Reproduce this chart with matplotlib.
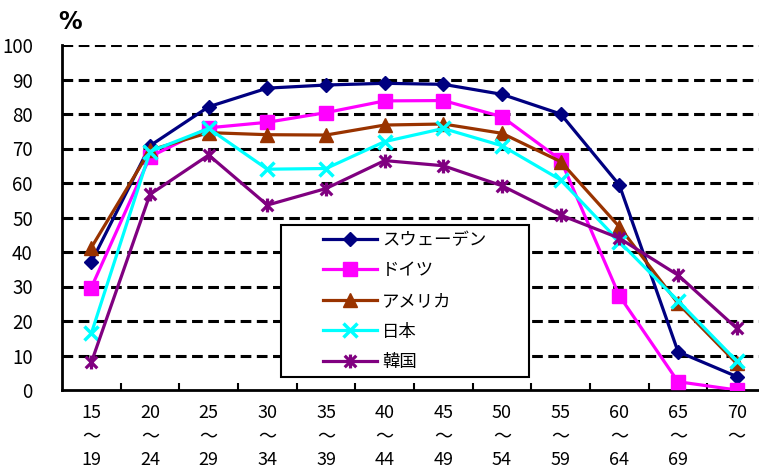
import matplotlib
matplotlib.use('Agg')
import matplotlib.pyplot as plt
from matplotlib.path import Path
from matplotlib.patches import Rectangle
import numpy as np

plt.rcParams['font.family'] = ['Noto Sans CJK JP', 'DejaVu Sans']

age_labels = ['15\n〜\n19', '20\n〜\n24', '25\n〜\n29', '30\n〜\n34', '35\n〜\n39', '40\n〜\n44',
              '45\n〜\n49', '50\n〜\n54', '55\n〜\n59', '60\n〜\n64', '65\n〜\n69', '70\n〜\n ']

sweden = [37.1, 70.8, 82.1, 87.5, 88.4, 88.9, 88.6, 85.7, 80.0, 59.4, 11.1, 3.9]
germany = [29.7, 67.6, 76.0, 77.6, 80.4, 83.8, 83.9, 79.2, 66.7, 27.3, 2.4, 0.0]
usa = [41.3, 69.5, 74.6, 74.0, 73.9, 76.8, 77.1, 74.4, 66.2, 47.3, 25.1, 7.7]
japan = [16.4, 69.1, 75.8, 64.0, 64.2, 72.0, 75.8, 70.8, 60.9, 43.0, 25.8, 8.4]
korea = [8.0, 56.7, 68.1, 53.6, 58.4, 66.5, 65.0, 59.2, 50.7, 44.0, 33.3, 17.9]

series_names = ['スウェーデン', 'ドイツ', 'アメリカ', '日本', '韓国']

# x with a vertical bar through it
star = Path([(-1, -1), (1, 1), (-1, 1), (1, -1), (0, -1.2), (0, 1.2)],
            [Path.MOVETO, Path.LINETO, Path.MOVETO, Path.LINETO, Path.MOVETO, Path.LINETO])

fig = plt.figure(figsize=(7.59, 4.70), dpi=100)
ax = fig.add_axes([62 / 759, 80 / 470, 697 / 759, 345 / 470])

x = np.arange(len(age_labels))
lw = 2.3
ax.plot(x, sweden, color='#000080', lw=lw, marker='D', ms=7, label=series_names[0], zorder=5)
ax.plot(x, germany, color='#FF00FF', lw=lw, marker='s', ms=10, label=series_names[1], zorder=5)
ax.plot(x, usa, color='#993300', lw=lw, marker='^', ms=10, label=series_names[2], zorder=5)
ax.plot(x, japan, color='#00FFFF', lw=lw, marker='x', ms=10, mew=2.5, label=series_names[3], zorder=5)
ax.plot(x, korea, color='#800080', lw=lw, marker=star, ms=10, mew=2.3, label=series_names[4], zorder=5)

ax.set_xlim(-0.5, 11.38)
ax.set_ylim(0, 100)
ax.set_yticks(range(0, 101, 10))
ax.tick_params(axis='y', length=0, labelsize=13.5, pad=21)
ax.set_xticks(x)
ax.set_xticklabels(age_labels, linespacing=1.38)
ax.tick_params(axis='x', which='major', length=0, labelsize=13, pad=10)
ax.set_xticks(np.arange(0.5, 11.5, 1), minor=True)
ax.tick_params(axis='x', which='minor', direction='in', length=5, width=1.5)

for y in range(10, 101, 10):
    ax.axhline(y, color='black', lw=2.2, ls=(0, (3.5, 1.8)), zorder=1)

for side in ['top', 'right']:
    ax.spines[side].set_visible(False)
ax.spines['left'].set_linewidth(2)
ax.spines['bottom'].set_linewidth(2)

fig.text(58 / 759, 1 - 22 / 470, '%', family='DejaVu Sans', fontsize=17, fontweight='bold',
         ha='left', va='center')

# legend box drawn separately so the entries sit in the middle
fig.patches.append(Rectangle((281 / 759, 1 - 377 / 470), 248 / 759, 152 / 470,
                             transform=fig.transFigure, facecolor='white',
                             edgecolor='black', lw=1.5, zorder=6))
leg = fig.legend(loc='upper left', bbox_to_anchor=(323 / 759, 1 - 231 / 470),
                 frameon=False, fontsize=12.5, handlelength=3.1, handletextpad=0.3,
                 labelspacing=0.72, borderpad=0, borderaxespad=0)
leg.set_zorder(7)

fig.savefig('out.png', dpi=100)
